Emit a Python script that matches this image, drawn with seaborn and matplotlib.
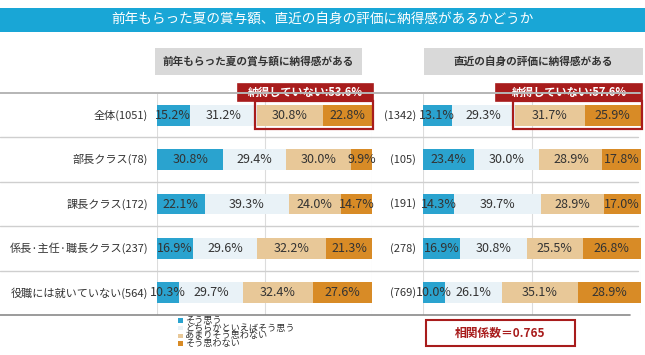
import matplotlib
matplotlib.use("Agg")
import matplotlib.pyplot as plt
import matplotlib.transforms as mtransforms
from matplotlib.patches import Rectangle
from matplotlib.lines import Line2D
import numpy as np
import pandas as pd
import seaborn as sns

# ---- data -------------------------------------------------------------------
categories = ["全体", "部長クラス", "課長クラス", "係長·主任·職長クラス", "役職には就いていない"]
n_bonus = [1051, 78, 172, 237, 564]
n_eval = [1342, 105, 191, 278, 769]

answers = ["そう思う", "どちらかといえばそう思う", "あまりそう思わない", "そう思わない"]
colors = ["#2aa3cf", "#e9f2f7", "#e8c898", "#d88b26"]

bonus_yes = [15.2, 30.8, 22.1, 16.9, 10.3]
bonus_rather_yes = [31.2, 29.4, 39.3, 29.6, 29.7]
bonus_rather_no = [30.8, 30.0, 24.0, 32.2, 32.4]
bonus_no = [22.8, 9.9, 14.7, 21.3, 27.6]

eval_yes = [13.1, 23.4, 14.3, 16.9, 10.0]
eval_rather_yes = [29.3, 30.0, 39.7, 30.8, 26.1]
eval_rather_no = [31.7, 28.9, 28.9, 25.5, 35.1]
eval_no = [25.9, 17.8, 17.0, 26.8, 28.9]

title = "前年もらった夏の賞与額、直近の自身の評価に納得感があるかどうか"
panel_titles = ["前年もらった夏の賞与額に納得感がある", "直近の自身の評価に納得感がある"]
dissatisfied = ["納得していない:53.6%", "納得していない:57.6%"]
corr_text = "相関係数＝0.765"

sns.set_theme(style="white")
plt.rcParams["font.family"] = ["Noto Sans CJK JP", "DejaVu Sans"]

W, H = 645, 355
RED = "#a81c1c"
TXT = "#333333"


def fx(px):
    return px / W


def fy(py):
    return 1 - py / H


def stacked_panel(ax, parts, counts, label_x, label_fmt):
    df = pd.DataFrame({"row": [f"r{i}" for i in range(len(categories))]})
    cum = np.cumsum(np.array(parts), axis=0)
    # draw largest cumulative first so the shorter ones sit on top
    for k in range(len(parts) - 1, -1, -1):
        df["val"] = cum[k]
        sns.barplot(data=df, x="val", y="row", orient="h", color=colors[k],
                    saturation=1, width=0.47, linewidth=0, errorbar=None, ax=ax)
    for k, seg in enumerate(parts):
        starts = cum[k] - np.array(seg)
        for i, v in enumerate(seg):
            ax.text(starts[i] + v / 2, i, f"{v:.1f}%", ha="center", va="center",
                    fontsize=9, color=TXT)
    ax.set_xlim(0, 100)
    ax.set_ylim(len(categories) - 0.5, -0.5)
    ax.set_xlabel(""); ax.set_ylabel("")
    ax.set_xticks([]); ax.set_yticks([])
    for s in ax.spines.values():
        s.set_visible(False)
    for xv in (0, 50, 100):
        ax.axvline(xv, color="#dcdcdc", lw=0.8, zorder=0)
    tr = mtransforms.blended_transform_factory(ax.figure.transFigure, ax.transData)
    for i, n in enumerate(counts):
        ax.text(label_x, i, label_fmt(i, n), ha="right", va="center",
                fontsize=8, color=TXT, transform=tr)
    return cum


def dissatisfied_box(ax, start, text):
    x0 = start - 1.0
    ax.add_patch(Rectangle((x0, -0.32), 100.6 - x0, 0.63, fill=False,
                           edgecolor=RED, lw=1.6, clip_on=False, zorder=5))
    hx = x0 - 7.8
    ax.add_patch(Rectangle((hx, -0.70), 100.6 - hx, 0.38, facecolor=RED,
                           edgecolor=RED, lw=1.2, clip_on=False, zorder=5))
    ax.text((hx + 100.6) / 2, -0.51, text, ha="center", va="center", color="white",
            fontsize=8, fontweight="bold", zorder=6, clip_on=False)


fig = plt.figure(figsize=(W / 100, H / 100), dpi=100)
fig.patch.set_facecolor("white")

# title banner
fig.patches.append(Rectangle((0, fy(32)), 1, fy(8) - fy(32), transform=fig.transFigure,
                             facecolor="#19a6d6", edgecolor="none"))
fig.text(fx(322), fy(20), title, ha="center", va="center", color="white", fontsize=9.8)

# panel headers
for (x0, x1), t in zip([(155, 362), (424, 643)], panel_titles):
    fig.patches.append(Rectangle((fx(x0), fy(75)), fx(x1 - x0), fy(48) - fy(75),
                                 transform=fig.transFigure, facecolor="#d9d9d9",
                                 edgecolor="none"))
    fig.text(fx((x0 + x1) / 2), fy(61.5), t, ha="center", va="center", fontsize=7.7,
             fontweight="bold", color=TXT)

# row separators
ax_bottom, ax_top = fy(315), fy(93)
for k in range(1, 5):
    py = 93 + k * (315 - 93) / 5
    fig.lines.append(Line2D([0, fx(638)], [fy(py)] * 2, transform=fig.transFigure,
                            color="#cfcfcf", lw=1.0))
fig.lines.append(Line2D([0, fx(640)], [fy(93)] * 2, transform=fig.transFigure,
                        color="#b5b5b5", lw=1.4))
fig.lines.append(Line2D([0, fx(630)], [fy(315)] * 2, transform=fig.transFigure,
                        color="#8a8a8a", lw=1.2))

ax1 = fig.add_axes([fx(157), ax_bottom, fx(372 - 157), ax_top - ax_bottom])
ax2 = fig.add_axes([fx(423), ax_bottom, fx(641 - 423), ax_top - ax_bottom])
for a in (ax1, ax2):
    a.patch.set_alpha(0)

cum1 = stacked_panel(ax1, [bonus_yes, bonus_rather_yes, bonus_rather_no, bonus_no],
                     n_bonus, fx(148), lambda i, n: f"{categories[i]}({n})")
cum2 = stacked_panel(ax2, [eval_yes, eval_rather_yes, eval_rather_no, eval_no],
                     n_eval, fx(416), lambda i, n: f"({n})")

dissatisfied_box(ax1, cum1[1][0], dissatisfied[0])
dissatisfied_box(ax2, cum2[1][0], dissatisfied[1])

# legend (tightly stacked like the source)
for k, (lab, c) in enumerate(zip(answers, colors)):
    py = 320.5 + k * 7.6
    fig.patches.append(Rectangle((fx(178), fy(py + 2.2)), fx(4.5), fy(py - 2.2) - fy(py + 2.2),
                                 transform=fig.transFigure, facecolor=c, edgecolor="none"))
    fig.text(fx(185), fy(py), lab, ha="left", va="center", fontsize=6.6, color=TXT)

# correlation box
fig.patches.append(Rectangle((fx(426), fy(346)), fx(575 - 426), fy(320) - fy(346),
                             transform=fig.transFigure, fill=False, edgecolor=RED, lw=1.5))
fig.text(fx(500), fy(333), corr_text, ha="center", va="center", color=RED,
         fontsize=8.5, fontweight="bold")

fig.savefig("out.png", dpi=100)
